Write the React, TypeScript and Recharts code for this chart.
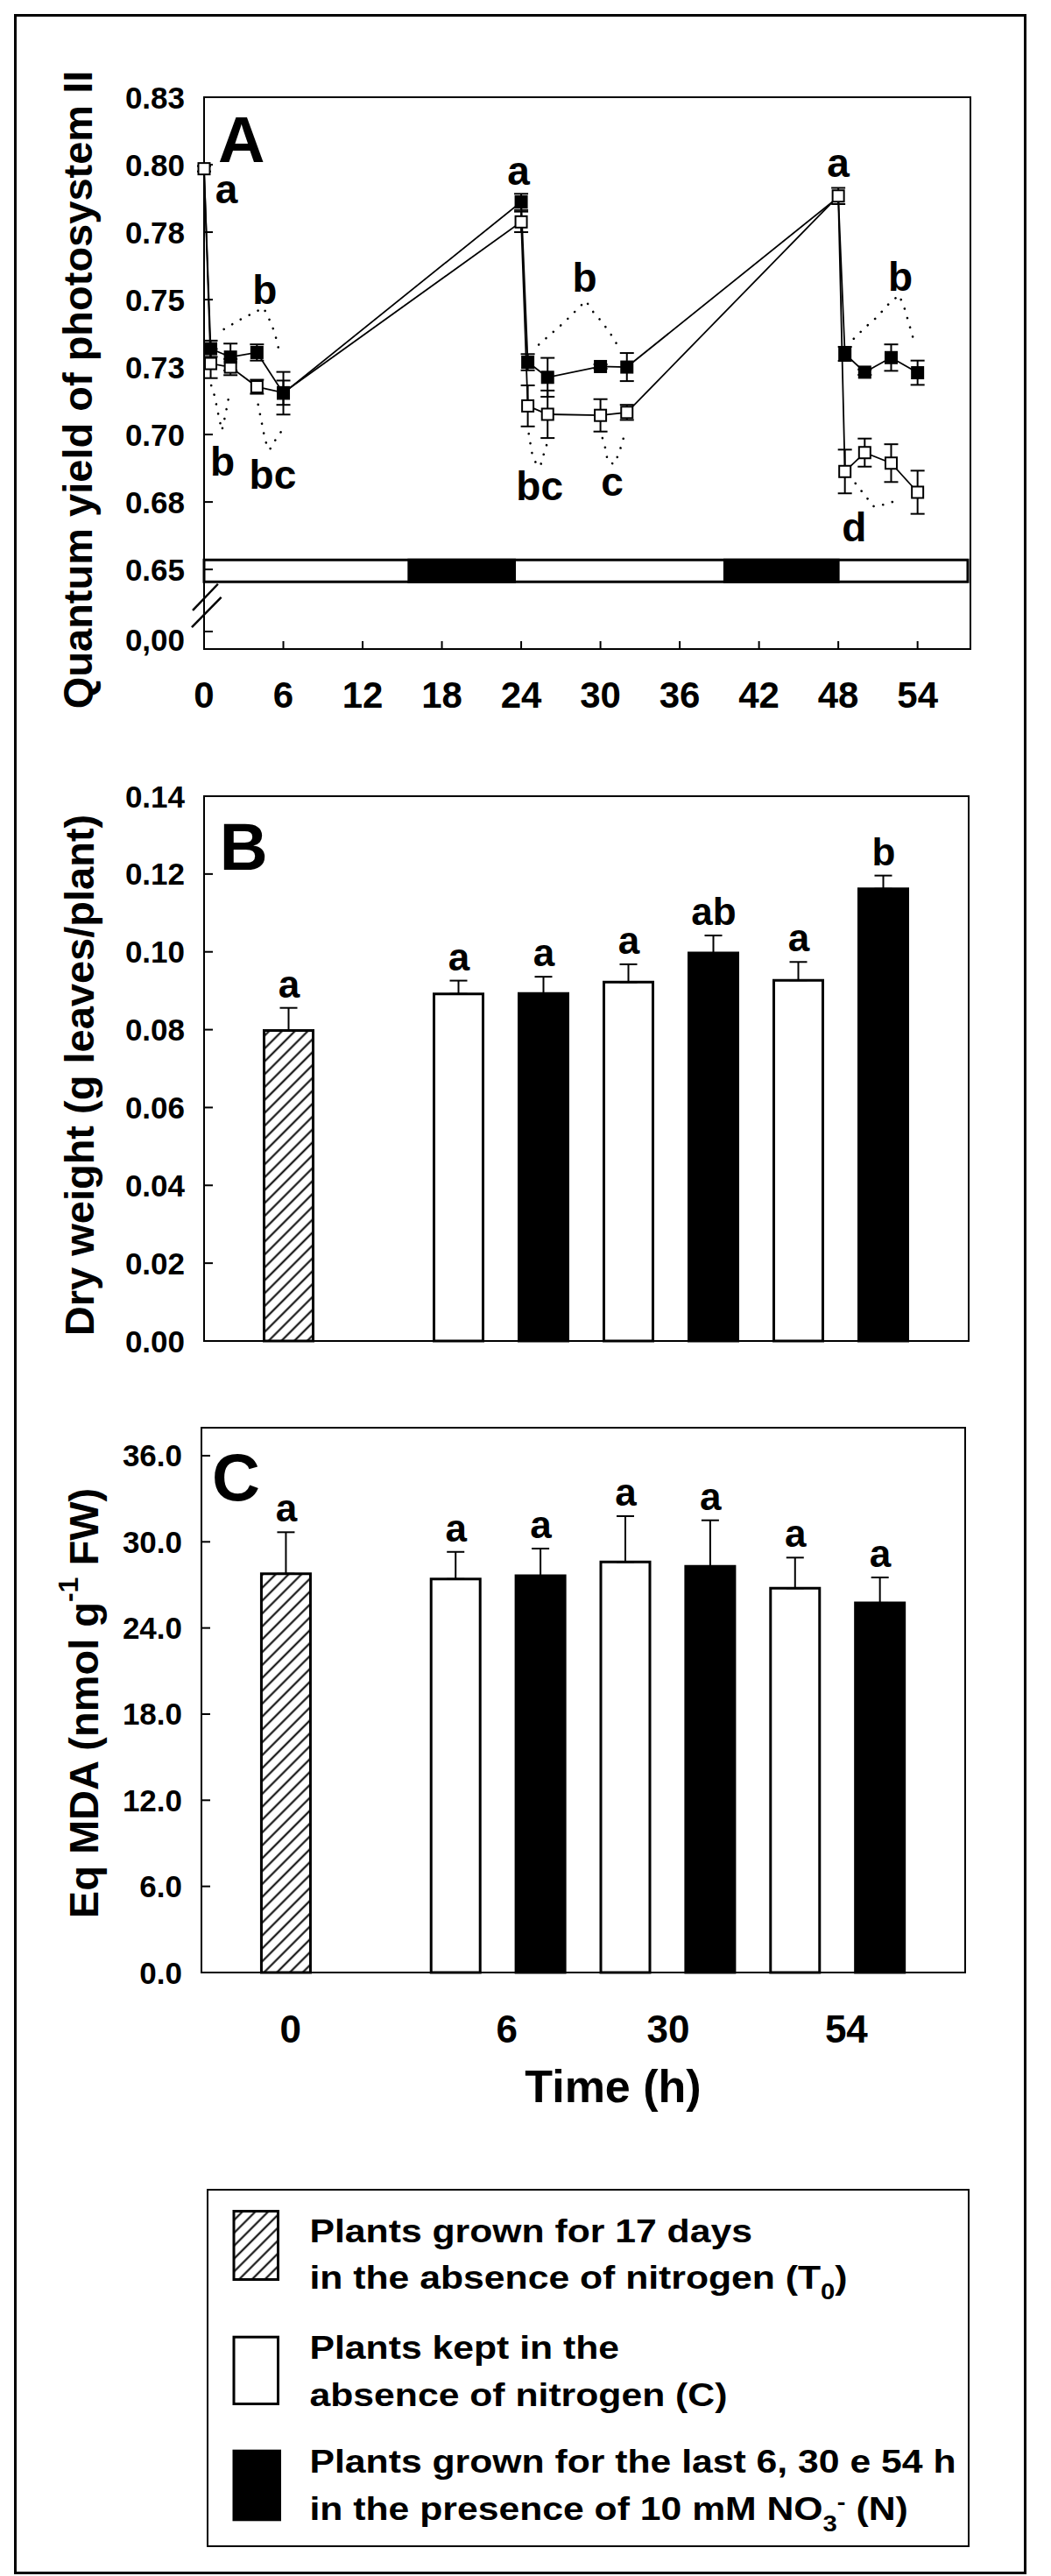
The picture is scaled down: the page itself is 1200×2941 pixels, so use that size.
import React from "react";
import {
  ComposedChart,
  Line,
  Bar,
  Cell,
  XAxis,
  YAxis,
  ErrorBar,
  ReferenceArea,
  ReferenceLine,
  ReferenceDot,
} from "recharts";

const FONT = '"Liberation Sans", Arial, Helvetica, sans-serif';
const ink = { fontFamily: FONT, fontWeight: 700, fill: "#000" };

// ---- A: quantum yield of photosystem II (open = C, filled = N)
const hours = [0, 0.5, 2, 4, 6, 24, 24.5, 26, 30, 32, 48, 48.5, 50, 52, 54];
const yieldC = [0.7985, 0.7263, 0.725, 0.7177, 0.7155, 0.7788, 0.7106, 0.7075, 0.7071, 0.7082, 0.7884, 0.6863, 0.6933, 0.6894, 0.6786];
const yieldCErr = [0.001, 0.0054, 0.003, 0.0026, 0.0045, 0.0038, 0.0076, 0.0088, 0.006, 0.0028, 0.003, 0.0081, 0.0052, 0.007, 0.008];
const yieldN = [0.7985, 0.7318, 0.7287, 0.7304, 0.7153, 0.7862, 0.7268, 0.7212, 0.7252, 0.725, 0.788, 0.7299, 0.7231, 0.7285, 0.7229];
const yieldNErr = [0, 0.003, 0.005, 0.003, 0.0079, 0.003, 0.003, 0.0072, 0.0008, 0.0052, 0, 0.0026, 0.001, 0.0049, 0.0045];
const hiddenN = [0, 48]; // filled marker sits under the open one here

const hourTicks = [0, 6, 12, 18, 24, 30, 36, 42, 48, 54];
const yieldTicks = [0.627, 0.65, 0.675, 0.7, 0.725, 0.75, 0.775, 0.8, 0.825];
const yieldTickLabels = ["0,00", "0.65", "0.68", "0.70", "0.73", "0.75", "0.78", "0.80", "0.83"];
const YMIN = 0.6205;
const YMAX = 0.825;

// light / dark periods (h)
const darkFrom = [15.5, 39.4];
const darkTo = [23.5, 48];

// dotted outlines around the groups, [h, yield]
const rings = [
  [[1.5, 0.739], [2.7, 0.7425], [3.6, 0.7447], [4.5, 0.747], [5.0, 0.742], [5.35, 0.7377], [5.75, 0.7295]],
  [[0.54, 0.7182], [0.79, 0.7144], [1.15, 0.7057], [1.35, 0.7015], [1.57, 0.7063], [1.77, 0.7111], [1.9, 0.7149]],
  [[4.09, 0.7111], [4.33, 0.7052], [4.59, 0.6987], [4.85, 0.6944], [5.05, 0.6949], [5.48, 0.6987], [6.12, 0.703]],
  [[24.57, 0.7003], [24.83, 0.6928], [25.2, 0.6884], [25.46, 0.6884], [25.71, 0.6928], [25.97, 0.6968]],
  [[30.15, 0.6987], [30.4, 0.6944], [30.54, 0.69], [31.04, 0.689], [31.42, 0.6933], [31.68, 0.6976], [31.93, 0.7019]],
  [[25.33, 0.7333], [26.35, 0.7377], [27.24, 0.7415], [28.12, 0.7458], [28.89, 0.7496], [29.39, 0.7458], [30.15, 0.7415], [30.79, 0.7371], [31.3, 0.733]],
  [[49.17, 0.7355], [50.06, 0.7398], [50.95, 0.7436], [51.71, 0.7479], [52.6, 0.7517], [52.97, 0.7474], [53.23, 0.7431], [53.49, 0.7387], [53.74, 0.7344]],
  [[49.3, 0.6819], [49.99, 0.6776], [50.7, 0.6733], [51.71, 0.6743], [52.6, 0.676]],
];

const yieldLetters = ["a", "a", "a", "b", "b", "bc", "bc", "c", "b", "b", "d"];
const yieldLetterT = [1.7, 23.8, 48, 4.6, 1.4, 5.2, 25.4, 30.9, 28.8, 52.7, 49.2];
const yieldLetterV = [0.7857, 0.7927, 0.7955, 0.7484, 0.6847, 0.6799, 0.6756, 0.6773, 0.7529, 0.7532, 0.6604];

// ---- B and C: bars, T0 then C / N pairs at 6, 30 and 54 h
const barSlots = [1, 3, 4, 5, 6, 7, 8];
const barKind = ["T0", "C", "N", "C", "N", "C", "N"];

const dryWeight = [0.0798, 0.0892, 0.0893, 0.0922, 0.0997, 0.0927, 0.1162];
const dryWeightErr = [0.0058, 0.0034, 0.0043, 0.0046, 0.0045, 0.0047, 0.0034];
const dryWeightLetters = ["a", "a", "a", "a", "ab", "a", "b"];
const dryTicks = [0, 0.02, 0.04, 0.06, 0.08, 0.1, 0.12, 0.14];
const dryTickLabels = ["0.00", "0.02", "0.04", "0.06", "0.08", "0.10", "0.12", "0.14"];

const mda = [27.78, 27.41, 27.64, 28.6, 28.29, 26.77, 25.75];
const mdaErr = [2.89, 1.89, 1.89, 3.19, 3.21, 2.13, 1.77];
const mdaLetters = ["a", "a", "a", "a", "a", "a", "a"];
const mdaTicks = [0, 6, 12, 18, 24, 30, 36];
const mdaTickLabels = ["0.0", "6.0", "12.0", "18.0", "24.0", "30.0", "36.0"];

const timeTicks = [1.05, 3.6, 5.5, 7.6];
const timeTickLabels = ["0", "6", "30", "54"];

const aData = hours.map((t, i) => ({ t, c: yieldC[i], n: yieldN[i], cErr: yieldCErr[i], nErr: yieldNErr[i] }));
const ringData = rings.map((r) => r.map(([t, v]) => ({ t, v })));
const dryData = barSlots.map((s, i) => ({ slot: s, kind: barKind[i], v: dryWeight[i], err: [0, dryWeightErr[i]] }));
const mdaData = barSlots.map((s, i) => ({ slot: s, kind: barKind[i], v: mda[i], err: [0, mdaErr[i]] }));

const fillFor = (kind: string) => (kind === "T0" ? "url(#hatch)" : kind === "C" ? "#fff" : "#000");

function square(filled: boolean) {
  return (p: any) => {
    const k = `${filled ? "n" : "c"}${p.index}`;
    if (p.cx == null || p.cy == null) return <g key={k} />;
    if (filled && hiddenN.includes(p.payload.t)) return <g key={k} />;
    return filled ? (
      <rect key={k} x={p.cx - 7.5} y={p.cy - 7.5} width={15} height={15} fill="#000" />
    ) : (
      <rect key={k} x={p.cx - 6.5} y={p.cy - 6.5} width={13} height={13} fill="#fff" stroke="#000" strokeWidth={2} />
    );
  };
}

function letter(text: string, size: number, lift: number) {
  return (p: any) => (
    <text x={p.cx} y={p.cy - lift} textAnchor="middle" fontSize={size} {...ink}>
      {text}
    </text>
  );
}

function yTick(labels: string[], ticks: number[], size: number, shiftFirst = 0) {
  return (p: any) => {
    const i = ticks.indexOf(p.payload.value);
    return (
      <text x={p.x - 22} y={p.y + (i === 0 ? shiftFirst : 0)} textAnchor="end" dominantBaseline="central" fontSize={size} {...ink}>
        {labels[i]}
      </text>
    );
  };
}

function xTick(labels: string[], ticks: number[], size: number, drop: number) {
  return (p: any) => {
    const i = ticks.indexOf(p.payload.value);
    return (
      <text x={p.x} y={p.y + drop} textAnchor="middle" fontSize={size} {...ink}>
        {labels[i]}
      </text>
    );
  };
}

const tickStroke = { stroke: "#000", strokeWidth: 2 };

function PanelA() {
  return (
    <ComposedChart width={1200} height={830} data={aData} margin={{ top: 111, right: 92, bottom: 9, left: 0 }}>
      <XAxis
        type="number"
        dataKey="t"
        domain={[0, 58]}
        ticks={hourTicks}
        interval={0}
        height={80}
        axisLine={false}
        tickSize={-9}
        tickMargin={9}
        tickLine={tickStroke}
        tick={xTick(hourTicks.map(String), hourTicks, 42, 67)}
      />
      <YAxis
        type="number"
        domain={[YMIN, YMAX]}
        ticks={yieldTicks}
        interval={0}
        width={233}
        axisLine={false}
        tickSize={-10}
        tickMargin={10}
        tickLine={tickStroke}
        tick={yTick(yieldTickLabels, yieldTicks, 35, 10)}
      />
      <ReferenceArea x1={0} x2={58} y1={YMIN} y2={YMAX} fill="none" stroke="#000" strokeWidth={2} />
      <ReferenceArea x1={0} x2={57.8} y1={0.6454} y2={0.6535} fill="#fff" fillOpacity={1} stroke="#000" strokeWidth={3} />
      {darkFrom.map((s, i) => (
        <ReferenceArea key={`d${i}`} x1={s} x2={darkTo[i]} y1={0.6454} y2={0.6535} fill="#000" fillOpacity={1} stroke="#000" strokeWidth={3} />
      ))}
      <ReferenceLine segment={[{ x: -0.86, y: 0.6348 }, { x: 1.05, y: 0.6446 }]} stroke="#000" strokeWidth={2.5} ifOverflow="visible" />
      <ReferenceLine segment={[{ x: -0.93, y: 0.6286 }, { x: 1.3, y: 0.6397 }]} stroke="#000" strokeWidth={2.5} ifOverflow="visible" />
      {ringData.map((r, i) => (
        <Line
          key={`r${i}`}
          data={r}
          dataKey="v"
          type="linear"
          stroke="#000"
          strokeWidth={2.6}
          strokeDasharray="0.1 11"
          strokeLinecap="round"
          dot={false}
          activeDot={false}
          isAnimationActive={false}
        />
      ))}
      <Line dataKey="c" type="linear" stroke="#000" strokeWidth={1.8} dot={square(false)} activeDot={false} isAnimationActive={false}>
        <ErrorBar dataKey="cErr" direction="y" width={8} stroke="#000" strokeWidth={2} isAnimationActive={false} />
      </Line>
      <Line dataKey="n" type="linear" stroke="#000" strokeWidth={1.8} dot={square(true)} activeDot={false} isAnimationActive={false}>
        <ErrorBar dataKey="nErr" direction="y" width={8} stroke="#000" strokeWidth={2} isAnimationActive={false} />
      </Line>
      {yieldLetters.map((s, i) => (
        <ReferenceDot key={`l${i}`} x={yieldLetterT[i]} y={yieldLetterV[i]} r={0} shape={letter(s, 46, 0)} />
      ))}
    </ComposedChart>
  );
}

function BarPanel(props: {
  data: { slot: number; kind: string; v: number; err: number[] }[];
  letters: string[];
  max: number;
  ticks: number[];
  tickLabels: string[];
  height: number;
  margin: { top: number; right: number; bottom: number; left: number };
  yWidth: number;
  showTime: boolean;
}) {
  const { data, letters, max, ticks, tickLabels, height, margin, yWidth, showTime } = props;
  return (
    <ComposedChart width={1200} height={height} data={data} margin={margin}>
      <XAxis
        type="number"
        dataKey="slot"
        domain={[0, 9]}
        hide={!showTime}
        ticks={timeTicks}
        interval={0}
        height={120}
        axisLine={false}
        tickLine={false}
        tickSize={0}
        tickMargin={0}
        tick={xTick(timeTickLabels, timeTicks, 44, 80)}
      />
      <YAxis
        type="number"
        domain={[0, max]}
        ticks={ticks}
        interval={0}
        width={yWidth}
        axisLine={false}
        tickSize={-10}
        tickMargin={10}
        tickLine={tickStroke}
        tick={yTick(tickLabels, ticks, 35)}
      />
      <ReferenceArea x1={0} x2={9} y1={0} y2={max} fill="none" stroke="#000" strokeWidth={2} />
      <Bar dataKey="v" barSize={56} stroke="#000" strokeWidth={3} isAnimationActive={false}>
        {data.map((d, i) => (
          <Cell key={`b${i}`} fill={fillFor(d.kind)} />
        ))}
        <ErrorBar dataKey="err" direction="y" width={10} stroke="#000" strokeWidth={2} isAnimationActive={false} />
      </Bar>
      {data.map((d, i) => (
        <ReferenceDot key={`l${i}`} x={d.slot} y={d.v + d.err[1]} r={0} shape={letter(letters[i], 44, 12)} />
      ))}
    </ComposedChart>
  );
}

function Overlay() {
  return (
    <svg width={1200} height={2941} style={{ position: "absolute", left: 0, top: 0, pointerEvents: "none" }}>
      <defs>
        <pattern id="hatch" patternUnits="userSpaceOnUse" width={10.4} height={10.4} patternTransform="rotate(45)">
          <rect width={10.4} height={10.4} fill="#fff" />
          <line x1={5.2} y1={0} x2={5.2} y2={10.4} stroke="#000" strokeWidth={2} />
        </pattern>
      </defs>
      <rect x={17.5} y={17.5} width={1153} height={2920} fill="none" stroke="#000" strokeWidth={3} />

      <text transform="translate(88,445) rotate(-90)" textAnchor="middle" dominantBaseline="central" fontSize={47} {...ink}>
        Quantum yield of photosystem II
      </text>
      <text transform="translate(90,1227.5) rotate(-90)" textAnchor="middle" dominantBaseline="central" fontSize={47} {...ink}>
        Dry weight (g leaves/plant)
      </text>
      <text transform="translate(95,1944.5) rotate(-90)" textAnchor="middle" dominantBaseline="central" fontSize={47} {...ink}>
        Eq MDA (nmol g<tspan dy={-17} fontSize={32}>-1</tspan>
        <tspan dy={17}> FW)</tspan>
      </text>

      <text x={249} y={185} fontSize={74} {...ink}>A</text>
      <text x={250.7} y={993} fontSize={76} {...ink}>B</text>
      <text x={242} y={1713} fontSize={76} {...ink}>C</text>

      <text x={700} y={2400} textAnchor="middle" fontSize={52} {...ink}>Time (h)</text>

      <rect x={237} y={2500} width={869} height={407} fill="none" stroke="#000" strokeWidth={2} />
      <rect x={267} y={2524.5} width={50.5} height={78} fill="url(#hatch)" stroke="#000" strokeWidth={3} />
      <rect x={267} y={2668.2} width={50.5} height={76.3} fill="#fff" stroke="#000" strokeWidth={3} />
      <rect x={265.5} y={2796.7} width={55.5} height={81.6} fill="#000" />
      <g transform="translate(353.5,0) scale(1.17,1)" fontSize={36.5} {...ink}>
        <text x={0} y={2560}>Plants grown for 17 days</text>
        <text x={0} y={2613}>
          in the absence of nitrogen (T<tspan dy={12} fontSize={25}>0</tspan>
          <tspan dy={-12}>)</tspan>
        </text>
        <text x={0} y={2693}>Plants kept in the</text>
        <text x={0} y={2747}>absence of nitrogen (C)</text>
        <text x={0} y={2823}>Plants grown for the last 6, 30 e 54 h</text>
        <text x={0} y={2877}>
          in the presence of 10 mM NO<tspan dy={13} fontSize={25}>3</tspan>
          <tspan dy={-25} fontSize={25}>-</tspan>
          <tspan dy={12}> (N)</tspan>
        </text>
      </g>
    </svg>
  );
}

export default function App() {
  return (
    <div style={{ position: "absolute", left: 0, top: 0, width: 1200, height: 2941, background: "#fff" }}>
      <div style={{ position: "absolute", left: 0, top: 0 }}>
        <PanelA />
      </div>
      <div style={{ position: "absolute", left: 0, top: 830 }}>
        <BarPanel
          data={dryData}
          letters={dryWeightLetters}
          max={0.14}
          ticks={dryTicks}
          tickLabels={dryTickLabels}
          height={760}
          margin={{ top: 79, right: 94, bottom: 59, left: 0 }}
          yWidth={233}
          showTime={false}
        />
      </div>
      <div style={{ position: "absolute", left: 0, top: 1590 }}>
        <BarPanel
          data={mdaData}
          letters={mdaLetters}
          max={37.95}
          ticks={mdaTicks}
          tickLabels={mdaTickLabels}
          height={850}
          margin={{ top: 40, right: 98, bottom: 68, left: 0 }}
          yWidth={230}
          showTime={true}
        />
      </div>
      <Overlay />
    </div>
  );
}
